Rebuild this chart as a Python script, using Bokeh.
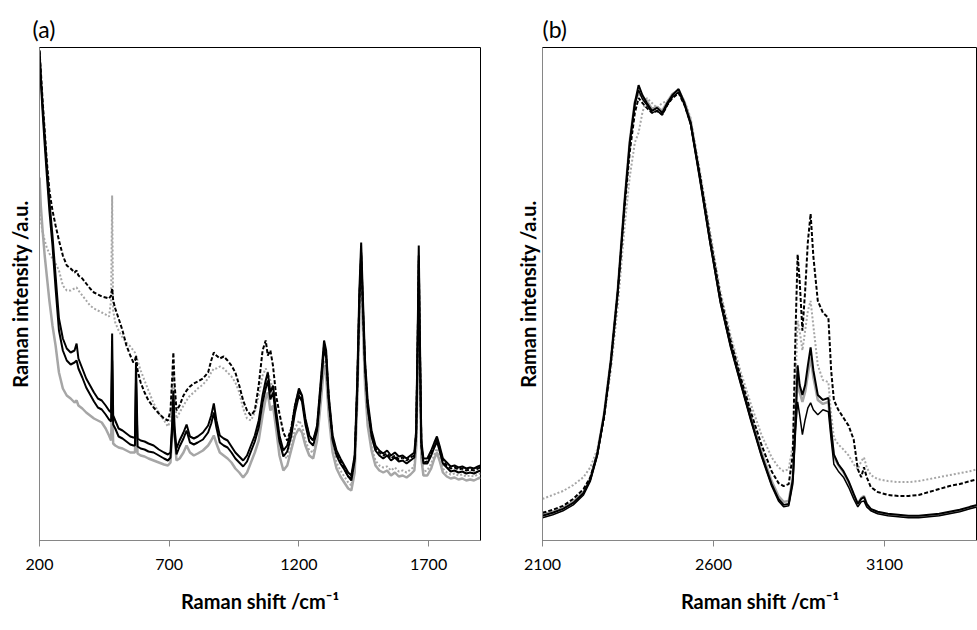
from bokeh.plotting import figure
from bokeh.layouts import row
from bokeh.models import FixedTicker, Range1d
from bokeh.embed import file_html
from bokeh.resources import INLINE

# ---------------- panel (a) data ----------------
xa = [200, 205, 212, 220, 228, 238, 250, 262, 275, 290, 305, 320, 335, 343, 350, 365, 380, 395, 410, 425,
      440, 455, 468, 476, 480, 484, 492, 505, 520, 535, 550, 562, 568, 572, 578, 590, 605, 620, 640, 660,
      680, 695, 705, 712, 716, 720, 728, 740, 755, 767, 780, 795, 810, 830, 850, 862, 872, 882, 895, 910,
      925, 940, 955, 970, 985, 1000, 1015, 1030, 1045, 1060, 1072, 1080, 1090, 1100, 1112, 1125, 1140, 1155, 1170, 1185,
      1200, 1212, 1225, 1240, 1255, 1270, 1285, 1297, 1305, 1315, 1330, 1345, 1360, 1375, 1390, 1402, 1415, 1425, 1433, 1440,
      1447, 1455, 1465, 1480, 1495, 1510, 1525, 1540, 1555, 1570, 1585, 1600, 1615, 1630, 1645, 1652, 1658, 1662, 1666, 1672,
      1680, 1695, 1710, 1722, 1732, 1742, 1755, 1770, 1785, 1800, 1815, 1830, 1845, 1860, 1875, 1890, 1900]

a_black_1 = [490, 465, 435, 405, 375, 340, 305, 265, 222, 202, 192, 188, 190, 197, 182, 172, 162, 155, 148, 142,
             140, 135, 130, 128, 207, 125, 120, 112, 110, 107, 104, 103, 103, 178, 102, 100, 99, 97, 95, 91,
             88, 86, 88, 120, 150, 115, 92, 100, 108, 116, 104, 102, 104, 108, 115, 125, 137, 120, 105, 102,
             100, 94, 88, 84, 80, 85, 95, 105, 120, 145, 160, 168, 148, 155, 130, 105, 90, 95, 110, 135,
             152, 145, 122, 105, 100, 115, 162, 200, 190, 145, 105, 90, 82, 75, 68, 65, 85, 160, 250, 298,
             240, 180, 140, 110, 95, 90, 87, 90, 85, 88, 84, 85, 82, 85, 88, 110, 210, 295, 210, 100,
             82, 82, 90, 98, 104, 95, 82, 78, 74, 75, 73, 74, 72, 73, 72, 74, 75]

a_black_2 = [488, 460, 428, 396, 366, 330, 295, 252, 210, 190, 180, 176, 178, 180, 172, 163, 153, 146, 139, 133,
             131, 126, 121, 119, 180, 116, 112, 104, 102, 99, 96, 95, 95, 160, 94, 92, 91, 89, 88, 85,
             82, 80, 83, 112, 140, 108, 86, 94, 102, 110, 98, 96, 98, 101, 108, 117, 128, 113, 98, 95,
             93, 88, 82, 78, 74, 79, 89, 99, 113, 138, 152, 160, 141, 148, 123, 99, 84, 89, 104, 128,
             145, 139, 116, 99, 95, 110, 155, 192, 183, 139, 100, 85, 77, 71, 64, 60, 80, 152, 240, 288,
             232, 172, 133, 104, 90, 85, 82, 85, 80, 83, 79, 80, 77, 80, 83, 104, 200, 285, 200, 95,
             77, 77, 85, 93, 99, 90, 77, 73, 69, 70, 68, 69, 67, 68, 67, 69, 70]

a_grey_solid = [363, 335, 310, 285, 265, 240, 215, 195, 168, 152, 145, 142, 138, 140, 135, 132, 128, 125, 122, 120,
                118, 112, 105, 100, 140, 97, 95, 93, 92, 90, 88, 88, 88, 120, 87, 85, 84, 82, 80, 78,
                76, 75, 78, 110, 145, 110, 80, 82, 88, 95, 88, 85, 87, 90, 95, 100, 105, 97, 88, 85,
                82, 78, 72, 68, 63, 68, 78, 88, 100, 125, 142, 148, 130, 135, 112, 85, 70, 75, 90, 105,
                112, 108, 95, 85, 82, 100, 140, 175, 165, 125, 88, 72, 64, 58, 52, 50, 68, 140, 220, 257,
                210, 155, 115, 90, 75, 70, 68, 70, 65, 68, 64, 65, 63, 66, 70, 92, 170, 228, 170, 82,
                65, 65, 72, 82, 88, 80, 68, 64, 62, 63, 61, 62, 60, 61, 60, 62, 63]

a_black_dashed = [490, 470, 440, 410, 380, 350, 330, 315, 300, 285, 275, 272, 268, 270, 265, 262, 257, 252, 248, 246,
                  244, 243, 242, 245, 252, 240, 232, 222, 210, 195, 185, 178, 180, 185, 170, 158, 148, 140, 133, 127,
                  122, 120, 130, 165, 188, 160, 130, 135, 145, 150, 154, 157, 159, 162, 168, 180, 188, 185, 182, 184,
                  180, 175, 168, 155, 140, 130, 125, 130, 155, 190, 200, 185, 190, 175, 145, 127, 108, 100, 112, 135,
                  150, 142, 120, 104, 100, 112, 158, 195, 185, 142, 102, 88, 80, 72, 64, 62, 82, 155, 240, 285,
                  230, 175, 135, 107, 92, 88, 85, 87, 82, 85, 81, 83, 80, 83, 85, 108, 200, 280, 200, 95,
                  78, 79, 88, 96, 102, 93, 80, 75, 72, 73, 71, 72, 70, 71, 70, 72, 73]

a_grey_dotted = [330, 320, 308, 300, 293, 287, 282, 277, 270, 255, 250, 250, 252, 253, 250, 245, 240, 235, 232, 230,
                 228, 226, 224, 240, 345, 230, 218, 210, 203, 198, 194, 190, 188, 185, 180, 170, 160, 150, 137, 128,
                 120, 114, 120, 150, 170, 148, 122, 128, 135, 140, 145, 148, 152, 156, 162, 168, 172, 172, 174, 172,
                 168, 164, 158, 148, 132, 122, 120, 128, 145, 165, 172, 168, 160, 152, 128, 105, 85, 82, 95, 112,
                 120, 115, 100, 90, 88, 104, 145, 180, 170, 130, 92, 78, 70, 64, 58, 55, 72, 145, 225, 265,
                 218, 160, 120, 94, 80, 75, 73, 74, 70, 73, 69, 70, 68, 71, 74, 95, 175, 235, 175, 85,
                 69, 70, 77, 86, 92, 84, 72, 68, 66, 67, 65, 66, 64, 65, 64, 66, 67]

# ---------------- panel (b) data ----------------
xb = [2100, 2130, 2160, 2190, 2220, 2240, 2260, 2280, 2300, 2320, 2340, 2355, 2370, 2381, 2392, 2405, 2420, 2435, 2450, 2465,
      2480, 2498, 2515, 2533, 2560, 2590, 2620, 2650, 2680, 2710, 2740, 2770, 2790, 2805, 2820, 2832, 2840, 2846, 2852, 2860,
      2868, 2876, 2884, 2892, 2905, 2920, 2936, 2944, 2952, 2965, 2980, 2995, 3010, 3022, 3032, 3040, 3048, 3060, 3080, 3110,
      3140, 3170, 3200, 3230, 3260, 3290, 3320, 3350, 3372]

b_black_1 = [25, 28, 32, 38, 48, 62, 87, 127, 182, 252, 342, 402, 442, 460, 450, 442, 434, 437, 432, 442,
             450, 456, 442, 422, 367, 302, 242, 197, 159, 122, 87, 57, 42, 36, 37, 62, 122, 177, 157, 147,
             157, 177, 195, 172, 147, 142, 144, 112, 87, 77, 70, 60, 47, 37, 42, 44, 37, 32, 29, 27,
             26, 25, 25, 26, 27, 29, 31, 34, 36]

b_black_2 = [23, 26, 30, 36, 46, 60, 85, 125, 180, 250, 340, 400, 440, 455, 446, 440, 432, 434, 430, 440,
             448, 453, 440, 420, 364, 300, 240, 195, 157, 120, 85, 55, 40, 34, 35, 57, 112, 140, 127, 107,
             122, 134, 139, 132, 127, 132, 130, 102, 77, 70, 64, 54, 42, 34, 39, 40, 34, 30, 27, 25,
             24, 23, 23, 24, 25, 27, 29, 32, 34]

b_grey_solid = [26, 29, 33, 39, 49, 63, 88, 128, 183, 253, 343, 403, 443, 452, 448, 444, 436, 438, 434, 443,
                451, 455, 443, 424, 369, 305, 245, 200, 162, 125, 90, 60, 45, 39, 40, 64, 120, 165, 150, 140,
                150, 168, 185, 165, 142, 138, 140, 110, 85, 76, 69, 59, 46, 37, 43, 45, 37, 31, 28, 26,
                25, 24, 24, 25, 26, 28, 30, 33, 35]

b_grey_dotted = [42, 46, 50, 56, 64, 74, 92, 124, 172, 237, 317, 367, 402, 412, 432, 447, 442, 437, 442, 444,
                 450, 454, 444, 427, 374, 312, 252, 207, 170, 137, 107, 84, 74, 70, 72, 97, 162, 222, 212, 192,
                 212, 232, 242, 217, 177, 162, 160, 127, 104, 97, 92, 86, 77, 72, 80, 84, 74, 66, 62, 60,
                 59, 59, 60, 62, 64, 66, 68, 70, 72]

b_black_dashed = [28, 31, 35, 42, 52, 64, 87, 124, 180, 250, 337, 392, 432, 447, 442, 437, 432, 434, 430, 440,
                  447, 452, 440, 422, 370, 306, 247, 202, 164, 129, 97, 70, 58, 55, 57, 87, 212, 289, 262, 212,
                  252, 302, 330, 287, 242, 230, 225, 172, 142, 132, 124, 116, 102, 72, 64, 74, 64, 54, 49, 46,
                  45, 45, 46, 49, 52, 55, 57, 60, 62]

a_ticks = [200, 700, 1200, 1700]
b_ticks = [2100, 2600, 3100]

FONT = "Lato"
BLACK = "#000000"
GREY = "#a6a6a6"
AXIS = "#868686"


def make_panel(title, width, xr, yr, ticks, left, right, top, bottom, ystandoff, toffset):
    p = figure(width=width, height=630, output_backend="svg", toolbar_location=None,
               x_range=Range1d(*xr), y_range=Range1d(*yr),
               min_border_left=left, min_border_right=right, min_border_top=top, min_border_bottom=bottom)
    p.title.text = title
    p.title.text_font = FONT
    p.title.text_font_size = "23px"
    p.title.text_font_style = "normal"
    p.title.text_color = "#000000"
    p.title.align = "left"
    p.title.offset = toffset
    p.title.standoff = 10
    p.grid.visible = False
    p.outline_line_color = "#000000"
    p.outline_line_width = 1
    p.background_fill_color = "white"
    p.border_fill_color = "white"

    xa_ = p.xaxis[0]
    xa_.ticker = FixedTicker(ticks=ticks)
    xa_.minor_tick_line_color = None
    xa_.major_tick_in = 0
    xa_.major_tick_out = 6
    xa_.major_tick_line_color = AXIS
    xa_.axis_line_color = AXIS
    xa_.major_label_text_font = FONT
    xa_.major_label_text_font_size = "16px"
    xa_.major_label_text_color = "#000000"
    xa_.major_label_standoff = 12
    xa_.axis_label = "Raman shift /cm\u207b\u00b9"
    xa_.axis_label_text_font = FONT
    xa_.axis_label_text_font_size = "20px"
    xa_.axis_label_text_font_style = "bold"
    xa_.axis_label_text_color = "#000000"
    xa_.axis_label_standoff = 16

    ya_ = p.yaxis[0]
    ya_.ticker = FixedTicker(ticks=[])
    ya_.minor_tick_line_color = None
    ya_.major_tick_line_color = None
    ya_.major_label_text_font_size = "0px"
    ya_.axis_line_color = AXIS
    ya_.axis_label = "Raman intensity /a.u."
    ya_.axis_label_text_font = FONT
    ya_.axis_label_text_font_size = "20px"
    ya_.axis_label_text_font_style = "bold"
    ya_.axis_label_text_color = "#000000"
    ya_.axis_label_standoff = ystandoff
    return p


p1 = make_panel("(a)", 490, (200, 1900), (0, 493), a_ticks, 39, 10, 47, 90, 8, -7)
p1.line(xa, a_grey_solid, line_color=GREY, line_width=2.5)
p1.line(xa, a_grey_dotted, line_color=GREY, line_width=2, line_dash="2 2")
p1.line(xa, a_black_2, line_color=BLACK, line_width=2)
p1.line(xa, a_black_1, line_color=BLACK, line_width=2)
p1.line(xa, a_black_dashed, line_color=BLACK, line_width=2, line_dash="4 2")

p2 = make_panel("(b)", 487, (2100, 3372), (0, 498), b_ticks, 52, 0, 44, 88, 3, 0)
p2.line(xb, b_grey_solid, line_color=GREY, line_width=2.5)
p2.line(xb, b_grey_dotted, line_color=GREY, line_width=2, line_dash="2 2")
p2.line(xb, b_black_2, line_color=BLACK, line_width=1.5)
p2.line(xb, b_black_1, line_color=BLACK, line_width=2)
p2.line(xb, b_black_dashed, line_color=BLACK, line_width=2, line_dash="4 2")

layout = row(p1, p2)
open("out.html", "w").write(file_html(layout, INLINE))
